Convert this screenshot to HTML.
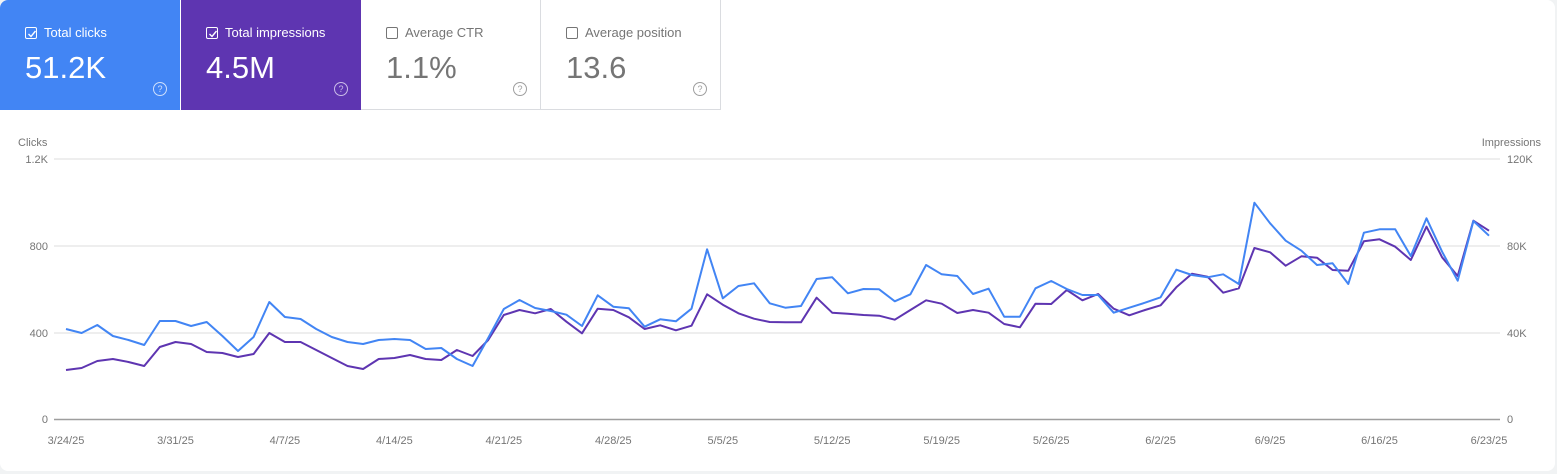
<!DOCTYPE html>
<html><head><meta charset="utf-8"><style>
html,body{margin:0;padding:0;background:#f1f3f4;}
body{width:1557px;height:474px;overflow:hidden;font-family:"Liberation Sans",Roboto,sans-serif;}
.wrap{position:absolute;left:0;top:0;width:1555px;height:471px;background:#fff;border-radius:8px;overflow:hidden;}
.card{position:absolute;top:0;height:110px;width:180px;box-sizing:border-box;}
.t{position:absolute;left:44px;top:25px;font-size:13px;}
.cb{position:absolute;left:25px;top:27px;width:10px;height:10px;border:1.5px solid;border-radius:2px;}
.v{position:absolute;left:25px;top:50px;font-size:31px;}
.q{position:absolute;right:13px;top:82px;width:12px;height:12px;border:1.3px solid;border-radius:50%;font-size:9px;line-height:12px;text-align:center;}
</style></head><body>
<div class="wrap">
<div class="card" style="left:0;background:#4285f4;color:#fff;">
<div class="cb" style="border-color:#fff"></div><svg style="position:absolute;left:27px;top:29px" width="10" height="10"><path d="M1.5 5 L4 7.5 L8.5 2" stroke="#fff" stroke-width="1.4" fill="none"/></svg>
<div class="t">Total clicks</div><div class="v">51.2K</div><div class="q" style="border-color:#cfe0fc;color:#cfe0fc">?</div></div>
<div class="card" style="left:181px;background:#5e35b1;color:#fff;">
<div class="cb" style="border-color:#fff"></div><svg style="position:absolute;left:27px;top:29px" width="10" height="10"><path d="M1.5 5 L4 7.5 L8.5 2" stroke="#fff" stroke-width="1.4" fill="none"/></svg>
<div class="t">Total impressions</div><div class="v">4.5M</div><div class="q" style="border-color:#cbbde8;color:#cbbde8">?</div></div>
<div class="card" style="left:361px;background:#fff;color:#757575;border:1px solid #dadce0;border-top:none;border-left:none;">
<div class="cb" style="border-color:#757575"></div><div class="t">Average CTR</div><div class="v" style="color:#757575">1.1%</div><div class="q" style="border-color:#9e9e9e;color:#9e9e9e">?</div></div>
<div class="card" style="left:541px;background:#fff;color:#757575;border:1px solid #dadce0;border-top:none;border-left:none;">
<div class="cb" style="border-color:#757575"></div><div class="t">Average position</div><div class="v" style="color:#757575">13.6</div><div class="q" style="border-color:#9e9e9e;color:#9e9e9e">?</div></div>
<svg id="ch" style="position:absolute;left:0;top:0" width="1557" height="474" font-family="Liberation Sans, sans-serif" font-size="11" fill="#757575">
<text x="18" y="146">Clicks</text>
<text x="1541" y="146" text-anchor="end">Impressions</text>
<g stroke="#eeeeee" stroke-width="2">
<line x1="54" y1="159" x2="1500" y2="159"/><line x1="54" y1="246" x2="1500" y2="246"/><line x1="54" y1="333" x2="1500" y2="333"/></g>
<line x1="54" y1="419.5" x2="1500" y2="419.5" stroke="#9e9e9e" stroke-width="1.5"/>
<g text-anchor="end"><text x="48" y="163">1.2K</text><text x="48" y="250">800</text><text x="48" y="337">400</text><text x="48" y="423">0</text></g>
<g><text x="1507" y="163">120K</text><text x="1507" y="250">80K</text><text x="1507" y="337">40K</text><text x="1507" y="423">0</text></g>
<g id="xl" text-anchor="middle"></g>
<polyline id="pu" fill="none" stroke="#5e35b1" stroke-width="2" stroke-linejoin="round"/>
<polyline id="bl" fill="none" stroke="#4285f4" stroke-width="2" stroke-linejoin="round"/>
</svg>
</div>
<script>
var B=[329,333,325,336,340,345,321,321,326,322,336,351,337,302,317,319,329,337,342,344,340,339,340,349,348,359,366,338,309,
300,308,311,314.7,326,295.3,306.7,308.3,326.7,319.3,321.3,308.7,249.3,298.3,286,283.3,303.3,307.7,306,279,277.3,293.3,289,289.3,301.3,294.3,265,274.3,276,294,288.7,
316.7,316.7,288.3,281,289,295,295,312.7,307.7,302.7,297.3,269.7,275,277.3,274.3,284,202.7,223.3,240.7,250.7,265,263.3,284,232.7,229.3,229.3,256,218.3,251.7,280.7,221,235.7];
var P=[370,368,361,359,362,366,347,342,344,352,353,357,354,333,342,342,350,358,366,369,359,358,355,359,360,350,356,340,315,
310,313.3,309,321.7,333.3,308.7,310,317.3,329,325.3,330.3,325.7,294.3,304.7,313.3,318.7,322,322.3,322.3,297.7,312.7,313.7,315,315.7,319.7,310,300.3,303.7,313,310,312.7,
324,327.3,303.7,304,290,300.3,294,308.7,315.3,310,305.3,287.3,273.7,276.7,292.7,288.3,248,252.3,265.7,256.3,257.7,270,270.7,241.3,239.3,246.7,260,226.7,257.3,276,220.7,230.7];
function pts(a){return a.map(function(y,i){return (66+i*1423/91).toFixed(1)+","+y}).join(" ");}
document.getElementById("bl").setAttribute("points",pts(B));
document.getElementById("pu").setAttribute("points",pts(P));
var L=["3/24/25","3/31/25","4/7/25","4/14/25","4/21/25","4/28/25","5/5/25","5/12/25","5/19/25","5/26/25","6/2/25","6/9/25","6/16/25","6/23/25"];
var g=document.getElementById("xl"),h="";
L.forEach(function(t,k){h+='<text x="'+(66+k*7*1423/91).toFixed(1)+'" y="444">'+t+'</text>';});
g.innerHTML=h;
</script>
</body></html>
